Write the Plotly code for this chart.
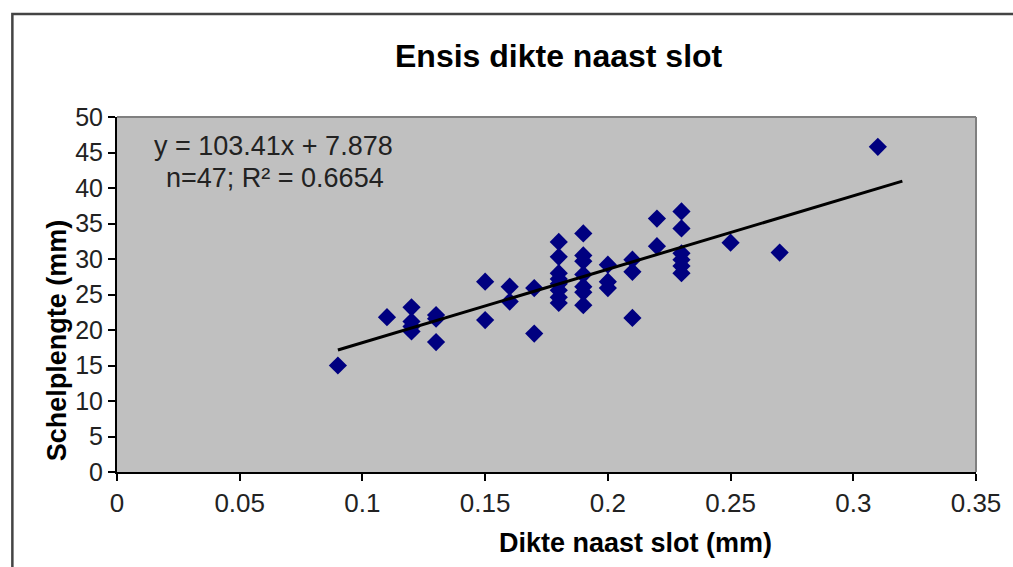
import plotly.graph_objects as go

# Data
dikte = [0.09, 0.11,
         0.12, 0.12, 0.12, 0.12,
         0.13, 0.13, 0.13,
         0.15, 0.15,
         0.16, 0.16,
         0.17, 0.17,
         0.18, 0.18, 0.18, 0.18, 0.18, 0.18, 0.18, 0.18,
         0.19, 0.19, 0.19, 0.19, 0.19, 0.19, 0.19,
         0.20, 0.20, 0.20,
         0.21, 0.21, 0.21,
         0.22, 0.22,
         0.23, 0.23, 0.23, 0.23, 0.23, 0.23,
         0.25, 0.27, 0.31]
schelplengte = [15.0, 21.8,
                23.2, 21.2, 20.5, 19.8,
                22.1, 21.6, 18.3,
                26.8, 21.4,
                26.1, 24.0,
                25.9, 19.5,
                32.4, 30.3, 28.0, 27.2, 26.5, 25.6, 24.6, 23.8,
                33.6, 30.5, 29.7, 27.8, 26.1, 25.3, 23.5,
                29.2, 26.8, 25.9,
                29.9, 28.2, 21.7,
                35.7, 31.8,
                36.7, 34.3, 30.8, 29.9, 29.0, 28.0,
                32.3, 30.9, 45.8]

slope = 103.41
intercept = 7.878
trend_x = [0.09, 0.32]
trend_y = [slope * v + intercept for v in trend_x]

x_ticks = [0, 0.05, 0.1, 0.15, 0.2, 0.25, 0.3, 0.35]
x_tick_labels = ["0", "0.05", "0.1", "0.15", "0.2", "0.25", "0.3", "0.35"]
y_ticks = [0, 5, 10, 15, 20, 25, 30, 35, 40, 45, 50]

title_text = "Ensis dikte naast slot"
x_title = "Dikte naast slot (mm)"
y_title = "Schelplengte (mm)"
eq_line1 = "y = 103.41x + 7.878"
eq_line2 = "n=47; R² = 0.6654"

FONT = "Liberation Sans, Arial, sans-serif"

fig = go.Figure()
fig.add_trace(go.Scatter(
    x=dikte, y=schelplengte, mode="markers",
    marker=dict(symbol="diamond", size=14, color="#000080", line=dict(width=0)),
    showlegend=False, hoverinfo="x+y"))
fig.add_trace(go.Scatter(
    x=trend_x, y=trend_y, mode="lines",
    line=dict(color="black", width=3), showlegend=False))

# plot area in pixels: left 117, right 979, top 117, bottom 472
L, R, T, B = 117, 979, 117, 472
W, H = 1013, 567
pw, ph = R - L, B - T

def px(xp):
    return (xp - L) / pw

def py(yp):
    return (B - yp) / ph

fig.update_layout(
    width=W, height=H,
    margin=dict(l=L, r=W - R, t=T, b=H - B, pad=0),
    paper_bgcolor="white",
    plot_bgcolor="#C0C0C0",
    font=dict(family=FONT, color="#222222"),
    xaxis=dict(range=[0, 0.35], tickvals=x_ticks, ticktext=x_tick_labels,
               showgrid=False, zeroline=False, showline=True, linecolor="black",
               linewidth=2, ticks="outside", ticklen=7, tickwidth=2, tickcolor="black",
               tickfont=dict(size=26, family=FONT, color="#222222"), fixedrange=True),
    yaxis=dict(range=[0, 50], tickvals=y_ticks,
               showgrid=False, zeroline=False, showline=True, linecolor="black",
               linewidth=2, ticks="outside", ticklen=7, tickwidth=2, tickcolor="black",
               tickfont=dict(size=25, family=FONT, color="#222222"), fixedrange=True),
    shapes=[
        dict(type="line", xref="paper", yref="paper", x0=0, x1=1, y0=1, y1=1,
             line=dict(color="#808080", width=2), layer="above"),
        dict(type="line", xref="paper", yref="paper", x0=1, x1=1, y0=0, y1=1,
             line=dict(color="#808080", width=2), layer="above"),
        dict(type="rect", xref="paper", yref="paper",
             x0=px(12), x1=px(1030), y0=py(14), y1=py(620),
             line=dict(color="#444444", width=2.5), fillcolor="rgba(0,0,0,0)"),
    ],
    annotations=[
        dict(text="<b>" + title_text + "</b>", xref="paper", yref="paper",
             x=px(561), y=py(56), xanchor="center", yanchor="middle", showarrow=False,
             font=dict(size=32, family=FONT, color="black")),
        dict(text="<b>" + x_title + "</b>", xref="paper", yref="paper",
             x=px(637), y=py(543), xanchor="center", yanchor="middle", showarrow=False,
             font=dict(size=27, family=FONT, color="black")),
        dict(text="<b>" + y_title + "</b>", xref="paper", yref="paper",
             x=px(57), y=py(340), xanchor="center", yanchor="middle", showarrow=False,
             textangle=-90, font=dict(size=27, family=FONT, color="black")),
        dict(text=eq_line1, xref="paper", yref="paper",
             x=px(274), y=py(146), xanchor="center", yanchor="middle", showarrow=False,
             font=dict(size=27, family=FONT, color="#222222")),
        dict(text=eq_line2, xref="paper", yref="paper",
             x=px(276), y=py(178), xanchor="center", yanchor="middle", showarrow=False,
             font=dict(size=27, family=FONT, color="#222222")),
    ],
)

fig.write_html("out.html",
               config={"displayModeBar": False},
               post_script="document.body.style.margin='0px';document.body.style.overflow='hidden';")
